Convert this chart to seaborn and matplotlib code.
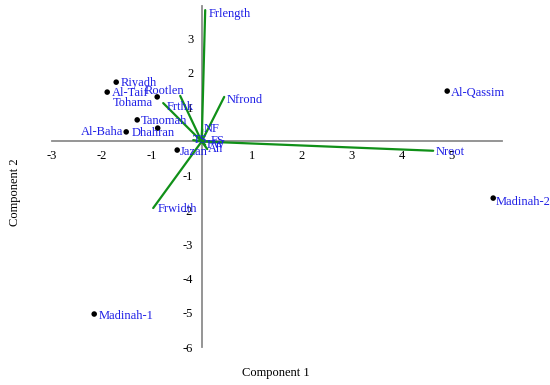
import matplotlib
matplotlib.use("Agg")
import matplotlib.pyplot as plt
import seaborn as sns
import pandas as pd

# ---- data ----
sites = ["Riyadh", "Al-Taif", "Tohama", "Tanomah", "Al-Baha", "Dhahran",
         "Jazan", "Al-Qassim", "Madinah-2", "Madinah-1"]
site_pc1 = [-1.71, -1.89, -0.89, -1.29, -1.51, -0.88, -0.49, 4.91, 5.83, -2.15]
site_pc2 = [1.73, 1.44, 1.30, 0.63, 0.28, 0.39, -0.25, 1.47, -1.65, -5.03]

variables = ["Frlength", "Nfrond", "Rootlen", "Frthk", "Frwidth", "Nroot",
             "NF", "TS", "FS", "FW", "Ah"]
var_pc1 = [0.07, 0.45, -0.43, -0.77, -0.97, 4.63, 0.01, -0.17, 0.15, 0.07, 0.11]
var_pc2 = [3.83, 1.30, 1.33, 1.12, -1.94, -0.27, 0.36, 0.04, 0.01, -0.10, -0.22]

x_ticks = [-3, -2, -1, 1, 2, 3, 4, 5]
y_ticks = [-6, -5, -4, -3, -2, -1, 1, 2, 3]

# label placement (pixel offsets, alignment)
site_off = {"Riyadh": (4, -1, "left"), "Al-Taif": (5, -1, "left"),
            "Tohama": (-4, -6, "right"), "Tanomah": (4, -1, "left"),
            "Al-Baha": (-3, 0, "right"), "Dhahran": (-26, -5, "left"),
            "Jazan": (3, -2, "left"), "Al-Qassim": (4, -2, "left"),
            "Madinah-2": (2, -4, "left"), "Madinah-1": (4, -2, "left")}
var_off = {"Frlength": (3, -4, "left"), "Nfrond": (2, -3, "left"),
           "Rootlen": (4, 5, "right"), "Frthk": (3, -4, "left"),
           "Frwidth": (4, -1, "left"), "Nroot": (2, -1, "left"),
           "NF": (1, 0, "left"), "TS": (0, 0, "left"), "FS": (1, 0, "left"),
           "FW": (1, 0, "left"), "Ah": (1, 0, "left")}

sns.set_theme(style="white")
plt.rcParams["font.family"] = ["Liberation Serif", "DejaVu Serif"]

fig = plt.figure(figsize=(5.5, 3.85), dpi=100)
ax = fig.add_axes([51.7 / 550, 1 - 347.3 / 385, 450 / 550, (347.3 - 6) / 385])
ax.set_xlim(-3, 6)
ax.set_ylim(-6, 3.95)

# vectors
rows = []
for v, a, b in zip(variables, var_pc1, var_pc2):
    rows.append({"var": v, "x": 0.0, "y": 0.0})
    rows.append({"var": v, "x": a, "y": b})
vec = pd.DataFrame(rows)
sns.lineplot(data=vec, x="x", y="y", units="var", estimator=None, sort=False,
             color="#109018", linewidth=1.6, ax=ax, zorder=3)

# points
pts = pd.DataFrame({"site": sites, "pc1": site_pc1, "pc2": site_pc2})
sns.scatterplot(data=pts, x="pc1", y="pc2", color="black", s=16,
                edgecolor="none", ax=ax, zorder=4)

for s, a, b in zip(sites, site_pc1, site_pc2):
    dx, dy, ha = site_off[s]
    ax.annotate(s, (a, b), xytext=(dx, dy), textcoords="offset pixels",
                ha=ha, va="center", color="#1f1fe6", fontsize=9, zorder=5,
                annotation_clip=False)
for v, a, b in zip(variables, var_pc1, var_pc2):
    dx, dy, ha = var_off[v]
    ax.annotate(v, (a, b), xytext=(dx, dy), textcoords="offset pixels",
                ha=ha, va="center", color="#1f1fe6", fontsize=9, zorder=5,
                annotation_clip=False)

# axes through origin
for side in ["top", "right"]:
    ax.spines[side].set_visible(False)
for side in ["left", "bottom"]:
    ax.spines[side].set_position(("data", 0))
    ax.spines[side].set_color("#8c8c8c")
    ax.spines[side].set_linewidth(1.3)
    ax.spines[side].set_zorder(1)
ax.set_xticks(x_ticks)
ax.set_yticks(y_ticks)
ax.set_xticklabels([str(t) for t in x_ticks])
ax.set_yticklabels([str(t) for t in y_ticks])
ax.tick_params(axis="both", direction="out", length=4, width=1,
               color="#8c8c8c", labelsize=9, labelcolor="black", pad=2)
ax.set_xlabel("")
ax.set_ylabel("")
ax.grid(False)
ax.set_facecolor("white")

fig.text(276 / 550, 1 - 373 / 385, "Component 1", ha="center", va="center",
         fontsize=9, color="black")
fig.text(15 / 550, 1 - 192 / 385, "Component 2", ha="center", va="center",
         rotation=90, fontsize=9, color="black")

fig.savefig("out.png", dpi=100, facecolor="white")
